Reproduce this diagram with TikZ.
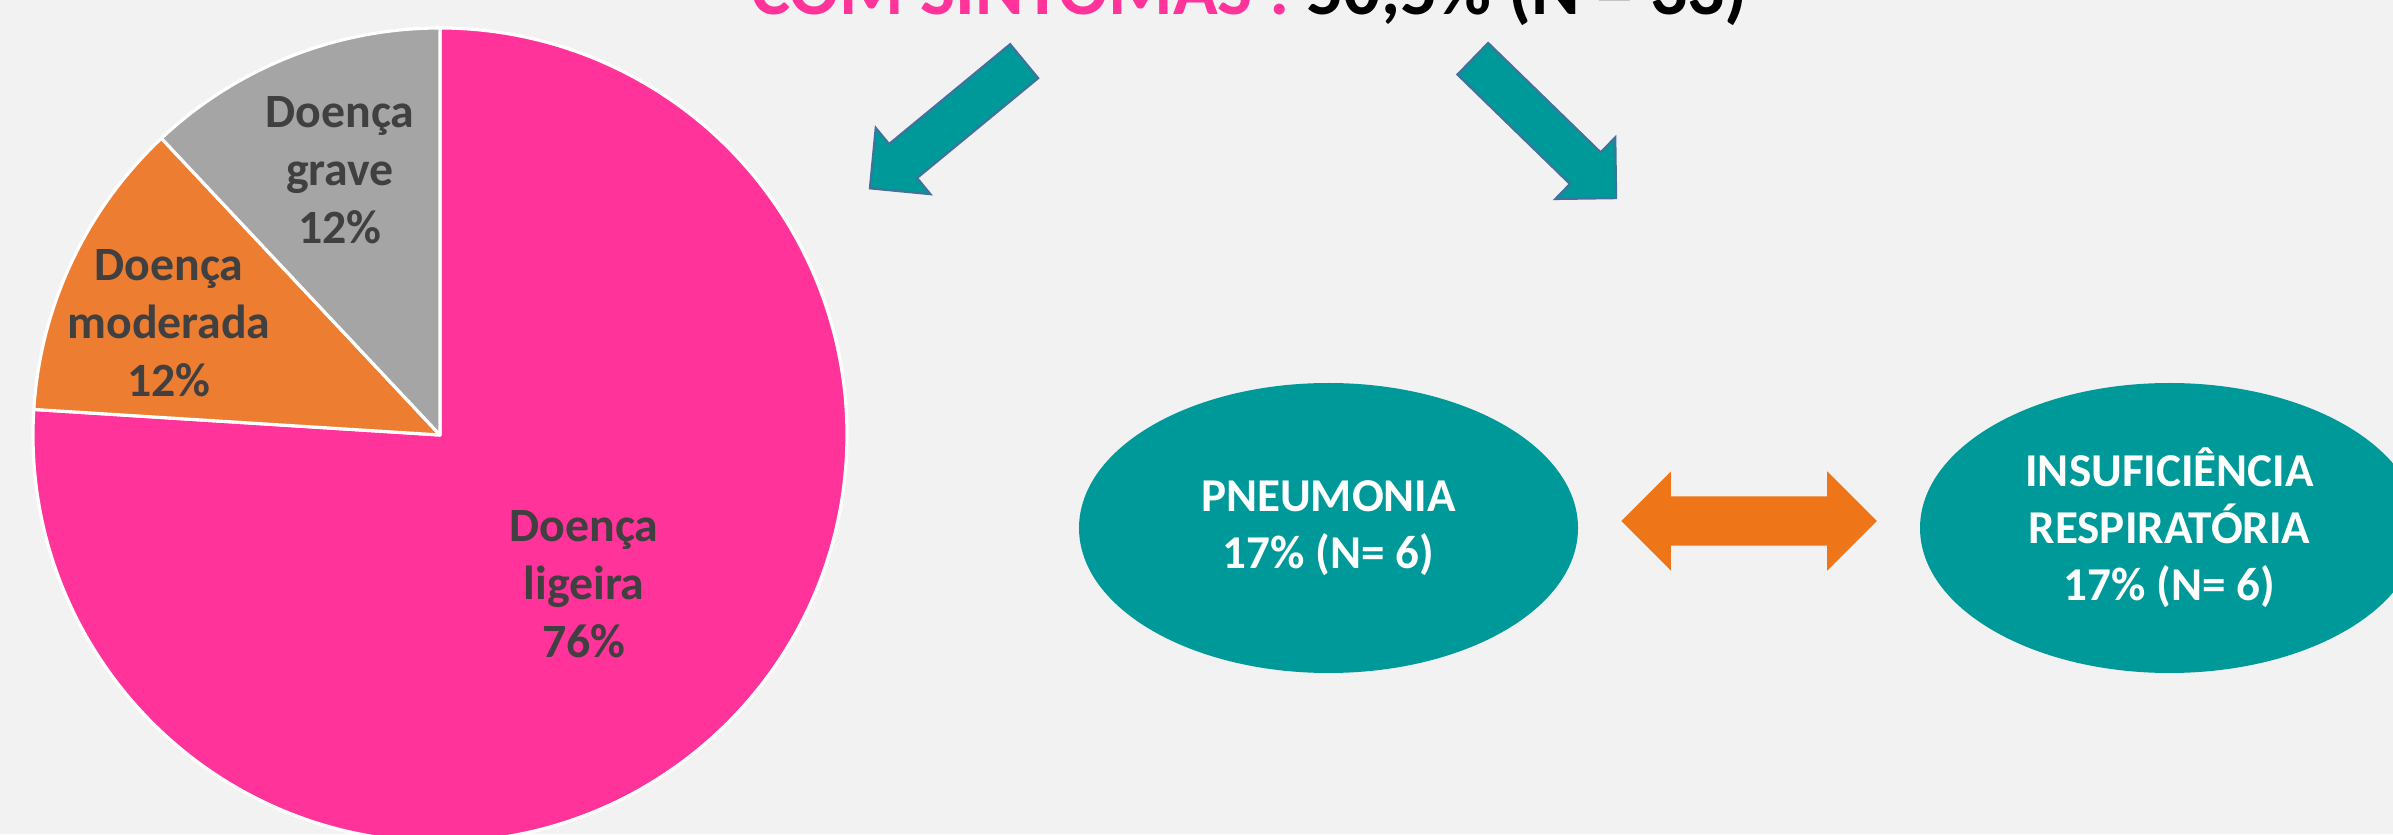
\documentclass[tikz,border=0pt]{standalone}
\usepackage{fontspec}
\setmainfont{Carlito}
\usepackage{tikz}
\usetikzlibrary{shapes.arrows,shapes.geometric}
\definecolor{pinkc}{HTML}{FF3399}
\definecolor{orangec}{HTML}{ED7D31}
\definecolor{greyc}{HTML}{A5A5A5}
\definecolor{tealc}{HTML}{009999}
\definecolor{edgec}{HTML}{41719C}
\definecolor{dblc}{HTML}{EE7518}
\definecolor{labc}{HTML}{404040}
\definecolor{bgc}{HTML}{F2F2F2}

\begin{document}
\begin{tikzpicture}
[
slice/.style={draw=white,line width=0.9pt,line join=round},
slicelab/.style={text=labc,align=center,font=\fontsize{13.6}{16.5}\selectfont\bfseries},
bubble/.style={ellipse,fill=tealc,text=white,minimum width=4.99cm,minimum height=2.9cm,inner sep=0pt,align=center,font=\fontsize{13.4}{16.2}\selectfont\bfseries},
downarrow/.style={single arrow,fill=tealc,draw=edgec,line width=0.6pt,minimum height=2cm,minimum width=0.83cm,single arrow head extend=0.21cm,inner xsep=0pt,inner ysep=0.21cm,anchor=tail},
bothways/.style={double arrow,fill=dblc,minimum height=2.555cm,minimum width=0.98cm,double arrow head extend=0.25cm,inner xsep=0pt,inner ysep=0.24cm},
]

%frame
\useasboundingbox (0,0) rectangle (23.93,8.34);
\fill[bgc] (0,0) rectangle (23.93,8.34);
\clip (0,0) rectangle (23.93,8.34);

%pie chart
\coordinate (pc) at (4.40,3.99);
\filldraw[slice,fill=pinkc] (pc) -- ++(176.4:4.07) arc[start angle=176.4,end angle=450,radius=4.07] -- cycle;	%ligeira
\filldraw[slice,fill=orangec] (pc) -- ++(133.2:4.07) arc[start angle=133.2,end angle=176.4,radius=4.07] -- cycle;	%moderada
\filldraw[slice,fill=greyc] (pc) -- ++(90:4.07) arc[start angle=90,end angle=133.2,radius=4.07] -- cycle;	%grave

\node[slicelab] (grave) at (3.40,6.64) {Doença\\grave\\12\%};
\node[slicelab] (moder) at (1.69,5.11) {Doença\\moderada\\12\%};
\node[slicelab] (ligei) at (5.84,2.50) {Doença\\ligeira\\76\%};

%title
\node[anchor=base,font=\fontsize{21}{25}\selectfont\bfseries] (title) at (12.495,8.19) {\textcolor{pinkc}{COM SINTOMAS :} 50,5\% (N = 33)};

%block arrows
\node[downarrow,rotate=219.5] (arrL) at (10.25,7.735) {};
\node[downarrow,rotate=-44.2] (arrR) at (14.72,7.76) {};

%complications
\node[bubble] (pneu) at (13.285,3.06) {PNEUMONIA\\17\% (N= 6)};
\node[bubble] (insuf) at (21.695,3.06) {INSUFICIÊNCIA\\RESPIRATÓRIA\\17\% (N= 6)};
\node[bothways] (link) at (17.49,3.13) {};
\end{tikzpicture}
\end{document}
